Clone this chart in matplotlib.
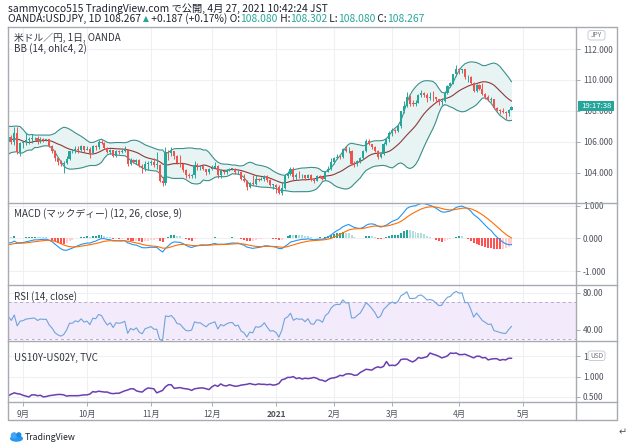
import numpy as np
import pandas as pd
import matplotlib
matplotlib.use('Agg')
import matplotlib.pyplot as plt
from matplotlib.patches import FancyBboxPatch, Rectangle, Ellipse, Circle

plt.rcParams['font.family'] = ['Noto Sans CJK JP', 'DejaVu Sans']

# ---------------- data ----------------
month_ticks = [5, 27, 49, 70, 92, 112, 132, 155, 177]
month_labels = ['9月', '10月', '11月', '12月', '2021', '2月', '3月', '4月', '5月']

# closes before the visible window (indicator warm-up, Jul-Aug 2020)
warmup_close = [107.53, 107.93, 107.47, 107.49, 107.49, 107.36, 107.59, 107.23, 107.22, 106.93,
                107.33, 107.24, 106.92, 107.28, 107.02, 107.26, 106.81, 107.17, 106.86, 106.13,
                105.39, 105.06, 104.95, 104.70, 105.83, 105.96, 105.71, 105.57, 105.55, 105.92,
                105.93, 106.49, 106.92, 106.92, 106.60, 105.99, 105.40, 106.11, 105.79, 105.80, 105.99]

closes = [106.33, 106.00, 106.58, 105.37, 105.91,
          105.97, 106.15, 106.19, 106.24, 106.26, 106.05, 106.18, 106.15, 106.16, 105.71, 105.43,
          104.95, 104.71, 104.56, 104.65, 104.93, 105.40, 105.40, 105.57, 105.50, 105.71, 105.48,
          105.55, 105.31, 105.74, 105.70, 106.01, 105.95, 105.62, 105.33, 105.47, 105.12, 105.43,
          105.38, 105.42, 105.50, 104.56, 104.86, 104.72, 104.85, 104.45, 104.30, 104.60, 104.66,
          104.73, 104.52, 104.52, 103.50, 103.37, 105.36, 105.28, 105.41, 105.12, 104.62, 104.57,
          104.20, 103.85, 103.80, 103.86, 104.52, 104.43, 104.43, 104.24, 104.08, 104.28,
          104.35, 104.43, 103.85, 104.15, 104.04, 104.17, 104.25, 104.26, 104.03, 104.07, 103.64,
          103.49, 103.10, 103.35, 103.28, 103.62, 103.57, 103.64, 103.82, 103.52, 103.23, 103.25,
          103.12, 102.71, 103.04, 103.81, 103.94, 104.25, 103.75, 103.89, 103.84, 103.86, 103.68,
          103.88, 103.53, 103.50, 103.78, 103.76, 103.63, 104.07, 104.24, 104.68,
          104.95, 105.04, 105.03, 105.54, 105.39, 105.44, 104.58, 104.57, 104.78, 104.96, 105.41,
          106.03, 105.88, 105.68, 105.44, 105.06, 105.22, 105.86, 106.18, 106.57,
          106.80, 106.71, 107.01, 107.97, 108.32, 108.91, 108.47, 108.46, 108.53, 109.04, 109.13,
          109.01, 108.84, 108.93, 108.88, 108.75, 108.61, 108.64, 109.17, 109.64, 109.78, 110.36, 110.72,
          110.63, 110.68, 110.18, 110.20, 109.82, 109.28, 109.67, 109.39, 109.08, 108.93, 108.74,
          108.78, 108.16, 108.09, 107.98, 107.91, 107.88, 108.08, 108.267]

opens = [106.00, 106.33, 106.00, 106.58, 105.37,
         105.91, 105.97, 106.15, 106.19, 106.24, 106.26, 106.05, 106.18, 106.15, 106.16, 105.71,
         105.43, 104.95, 104.71, 104.56, 104.65, 104.93, 105.40, 105.40, 105.57, 105.50, 105.71,
         105.48, 105.55, 105.31, 105.74, 105.70, 106.01, 105.95, 105.62, 105.33, 105.47, 105.12,
         105.43, 105.38, 105.42, 105.50, 104.56, 104.86, 104.72, 104.85, 104.45, 104.30, 104.60,
         104.66, 104.73, 104.52, 104.52, 103.50, 103.37, 105.36, 105.28, 105.41, 105.12, 104.62,
         104.57, 104.20, 103.85, 103.80, 103.86, 104.52, 104.43, 104.43, 104.24, 104.08,
         104.28, 104.35, 104.43, 103.85, 104.15, 104.04, 104.17, 104.25, 104.26, 104.03, 104.07,
         103.64, 103.49, 103.10, 103.35, 103.28, 103.62, 103.57, 103.64, 103.82, 103.52, 103.23,
         103.25, 103.12, 102.71, 103.04, 103.81, 103.94, 104.25, 103.75, 103.89, 103.84, 103.86,
         103.68, 103.88, 103.53, 103.50, 103.78, 103.76, 103.63, 104.07, 104.24,
         104.68, 104.95, 105.04, 105.03, 105.54, 105.39, 105.44, 104.58, 104.57, 104.78, 104.96,
         105.41, 106.03, 105.88, 105.68, 105.44, 105.06, 105.22, 105.86, 106.18,
         106.57, 106.80, 106.71, 107.01, 107.97, 108.32, 108.91, 108.47, 108.46, 108.53, 109.04,
         109.13, 109.01, 108.84, 108.93, 108.88, 108.75, 108.61, 108.64, 109.17, 109.64, 109.78, 110.36,
         110.72, 110.63, 110.68, 110.18, 110.20, 109.82, 109.28, 109.67, 109.39, 109.08, 108.93,
         108.74, 108.78, 108.16, 108.09, 107.98, 107.91, 107.88, 108.08]

highs = [106.48, 106.45, 106.95, 106.94, 106.00,
         106.00, 106.55, 106.35, 106.50, 106.35, 106.38, 106.30, 106.25, 106.20, 106.18, 105.80,
         105.50, 104.96, 104.84, 104.77, 105.10, 105.42, 105.54, 105.72, 105.73, 105.80, 105.75,
         105.71, 105.68, 105.78, 105.80, 106.11, 106.10, 106.01, 105.65, 105.55, 105.50, 105.50,
         105.48, 105.55, 105.75, 105.55, 104.96, 104.88, 104.92, 104.90, 104.55, 104.75, 104.80,
         104.83, 104.99, 105.34, 104.58, 103.76, 105.65, 105.48, 105.68, 105.43, 105.15, 105.13,
         104.64, 104.28, 103.98, 103.94, 104.75, 104.66, 104.53, 104.48, 104.26, 104.31,
         104.53, 104.70, 104.51, 104.26, 104.18, 104.26, 104.31, 104.35, 104.29, 104.18, 104.12,
         103.90, 103.56, 103.44, 103.88, 103.85, 103.68, 103.71, 103.85, 103.85, 103.60, 103.30,
         103.29, 103.20, 103.44, 103.95, 104.10, 104.40, 104.40, 103.97, 104.10, 103.92, 103.86,
         103.93, 103.94, 103.67, 103.85, 103.84, 103.78, 104.11, 104.44, 104.94,
         105.00, 105.20, 105.08, 105.60, 105.76, 105.65, 105.51, 104.78, 104.83, 105.02, 105.45,
         106.20, 106.22, 105.90, 105.75, 105.48, 105.30, 106.00, 106.22, 106.69,
         106.90, 106.85, 107.12, 108.00, 108.64, 109.23, 109.05, 108.70, 108.68, 109.12, 109.36,
         109.20, 109.17, 109.22, 109.30, 108.92, 108.79, 108.82, 109.22, 109.70, 109.85, 110.40, 110.97,
         110.77, 110.74, 110.70, 110.31, 110.25, 109.86, 109.73, 109.77, 109.78, 109.14, 109.05,
         108.91, 108.80, 108.23, 108.12, 108.16, 108.00, 108.14, 108.302]

lows = [105.95, 105.88, 105.78, 105.20, 105.11,
        105.59, 105.80, 105.90, 105.95, 106.12, 105.85, 105.95, 105.99, 106.03, 105.66, 105.29,
        104.78, 104.52, 104.44, 104.00, 104.60, 104.85, 105.27, 105.31, 105.28, 105.42, 105.38,
        105.48, 104.94, 105.28, 105.47, 105.53, 105.90, 105.55, 105.30, 105.20, 105.02, 105.00,
        105.25, 105.30, 105.38, 104.43, 104.50, 104.62, 104.55, 104.40, 104.02, 104.15, 104.18,
        104.50, 104.40, 104.26, 103.43, 103.18, 103.20, 104.83, 105.10, 104.88, 104.58, 104.39,
        104.08, 103.70, 103.65, 103.70, 103.70, 104.20, 104.20, 104.18, 103.88, 103.92,
        104.20, 104.30, 103.66, 103.70, 103.96, 103.93, 104.13, 104.20, 103.92, 103.90, 103.56,
        103.42, 102.88, 103.03, 103.20, 103.25, 103.45, 103.53, 103.50, 103.42, 103.15, 102.96,
        102.72, 102.62, 102.59, 102.98, 103.67, 103.84, 103.55, 103.52, 103.69, 103.68, 103.54,
        103.65, 103.46, 103.33, 103.49, 103.67, 103.52, 103.56, 104.03, 104.20,
        104.60, 104.90, 104.88, 104.95, 105.36, 105.29, 104.50, 104.40, 104.48, 104.62, 104.92,
        105.32, 105.80, 105.55, 105.33, 104.93, 104.97, 105.17, 105.80, 106.00,
        106.40, 106.58, 106.62, 106.91, 107.88, 108.23, 108.33, 108.30, 108.34, 108.50, 108.88,
        108.92, 108.61, 108.70, 108.62, 108.55, 108.40, 108.41, 108.60, 109.10, 109.56, 109.71, 110.25,
        110.38, 110.44, 110.08, 109.87, 109.77, 109.20, 109.21, 109.33, 109.06, 108.75, 108.62,
        108.61, 108.11, 107.97, 107.80, 107.85, 107.48, 107.70, 108.08]

# US10Y-US02Y spread (%)
spread = [0.53, 0.57, 0.60, 0.58, 0.57,
          0.54, 0.52, 0.50, 0.55, 0.55, 0.53, 0.54, 0.50, 0.51, 0.53, 0.54, 0.55, 0.56, 0.56, 0.55,
          0.52, 0.53, 0.53, 0.53, 0.53, 0.54, 0.55,
          0.55, 0.57, 0.63, 0.62, 0.64, 0.63, 0.62, 0.62, 0.59, 0.58, 0.59, 0.59, 0.62, 0.65, 0.67,
          0.70, 0.70, 0.65, 0.63, 0.62, 0.68, 0.72,
          0.71, 0.70, 0.60, 0.63, 0.66, 0.75, 0.80, 0.80, 0.71, 0.72, 0.73, 0.71, 0.70, 0.69, 0.66,
          0.70, 0.71, 0.72, 0.72, 0.70, 0.68,
          0.75, 0.79, 0.76, 0.82, 0.78, 0.77, 0.80, 0.78, 0.76, 0.77, 0.79, 0.80, 0.81, 0.83, 0.81,
          0.80, 0.82, 0.81, 0.81, 0.80, 0.81, 0.79,
          0.80, 0.83, 0.92, 0.94, 0.98, 0.98, 1.00, 0.95, 0.97, 0.94, 0.96, 0.95, 0.96, 0.98, 0.96,
          0.92, 0.91, 0.88, 0.93, 0.96,
          0.97, 0.99, 1.03, 1.02, 1.06, 1.07, 1.06, 1.03, 1.04, 1.10, 1.14, 1.18, 1.17, 1.16, 1.21,
          1.24, 1.22, 1.25, 1.37, 1.27,
          1.28, 1.27, 1.32, 1.42, 1.43, 1.43, 1.39, 1.36, 1.40, 1.47, 1.45, 1.47, 1.49, 1.58, 1.55,
          1.53, 1.50, 1.46, 1.48, 1.51, 1.58, 1.57, 1.58,
          1.54, 1.54, 1.55, 1.52, 1.49, 1.46, 1.50, 1.50, 1.46, 1.47, 1.41, 1.43, 1.44, 1.44, 1.40,
          1.42, 1.41, 1.45, 1.45]

# ---------------- indicators ----------------
o, h, l, c = (np.array(v, dtype=float) for v in (opens, highs, lows, closes))
n = len(c)
x = np.arange(n)
wu = np.array(warmup_close, dtype=float)

bb_src = pd.Series(np.concatenate([wu, (o + h + l + c) / 4]))
basis = bb_src.rolling(14).mean().values[-n:]
dev = 2 * bb_src.rolling(14).std(ddof=0).values[-n:]
upper, lower = basis + dev, basis - dev

fc = pd.Series(np.concatenate([wu, c]))
macd = fc.ewm(span=12, adjust=False).mean() - fc.ewm(span=26, adjust=False).mean()
sig = macd.ewm(span=9, adjust=False).mean()
hist_full = (macd - sig).values
macd, sig = macd.values[-n:], sig.values[-n:]
hist = hist_full[-n:]
hist_prev = hist_full[-n - 1:-1]

d = fc.diff()
gain = d.clip(lower=0).ewm(alpha=1 / 14, adjust=False).mean()
loss = (-d.clip(upper=0)).ewm(alpha=1 / 14, adjust=False).mean()
rsi = (100 - 100 / (1 + gain / loss)).values[-n:]

# ---------------- figure ----------------
W, H = 634, 448
fig = plt.figure(figsize=(W / 100, H / 100), dpi=100)
fig.patch.set_facecolor('white')

PX0, PX1, PXR = 8, 576, 617
XL, XR = -0.16, 195.2
UP, DN = '#26a69a', '#ef5350'
GRID = '#eef0f4'
FRAME = '#a7aab1'
LBL = '#50535e'


def mk(y0, y1):
    return fig.add_axes([PX0 / W, 1 - y1 / H, (PX1 - PX0) / W, (y1 - y0) / H])


def style(ax, yt, ylab, ylim):
    ax.set_xlim(XL, XR)
    ax.set_ylim(*ylim)
    ax.set_yticks(yt)
    ax.set_yticklabels(ylab)
    ax.yaxis.tick_right()
    ax.tick_params(axis='y', length=3, width=0.6, color='#9aa0a6', labelsize=6,
                   labelcolor=LBL, pad=2)
    ax.set_xticks(month_ticks)
    ax.tick_params(axis='x', length=0, labelbottom=False)
    ax.grid(True, color=GRID, lw=0.8)
    ax.set_axisbelow(True)
    for s in ax.spines.values():
        s.set_visible(False)


# main pane
ax1 = mk(27, 203)
style(ax1, [104, 106, 108, 110, 112], [f'{v:.3f}' for v in [104, 106, 108, 110, 112]],
      (102.06, 113.42))
ax1.fill_between(x, lower, upper, color='#e8f4f3', lw=0, zorder=1)
ax1.plot(x, upper, color='#3b8f8a', lw=0.8, zorder=2)
ax1.plot(x, lower, color='#3b8f8a', lw=0.8, zorder=2)
ax1.plot(x, basis, color='#8b3a3a', lw=0.8, zorder=2)
col = np.where(c >= o, UP, DN)
ax1.vlines(x, l, h, colors=col, lw=0.7, zorder=3)
ax1.bar(x, np.maximum(np.abs(c - o), 0.04), bottom=np.minimum(o, c), width=0.72,
        color=col, lw=0, zorder=4)

# MACD pane
ax2 = mk(203, 285)
style(ax2, [-1, 0, 1], ['-1.000', '0.000', '1.000'], (-1.43, 1.09))
hcol = np.where(hist >= 0,
                np.where(hist > hist_prev, '#26a69a', '#b2dfdb'),
                np.where(hist < hist_prev, '#ff5252', '#ffcdd2'))
ax2.bar(x, hist, width=0.68, color=hcol, lw=0, zorder=2)
ax2.plot(x, macd, color='#2196f3', lw=0.8, zorder=3)
ax2.plot(x, sig, color='#ff6d00', lw=0.8, zorder=3)

# RSI pane
ax3 = mk(285, 341)
style(ax3, [40, 80], ['40.00', '80.00'], (28.1, 88.6))
ax3.axhspan(30, 70, color='#f3eafb', lw=0, zorder=0.5)
ax3.axhline(70, color='#b9a7d1', lw=0.7, ls=(0, (3, 3)), zorder=1)
ax3.axhline(30, color='#b9a7d1', lw=0.7, ls=(0, (3, 3)), zorder=1)
ax3.plot(x, rsi, color='#6fa4dc', lw=0.8, zorder=3)

# spread pane
ax4 = mk(341, 402)
style(ax4, [0.5, 1.0, 1.5], ['0.500', '1.000', '1.500'], (0.375, 1.875))
ax4.plot(x, spread, color='#6a3fb0', lw=1.1, zorder=3)
ax4.set_xticklabels(month_labels)
ax4.tick_params(axis='x', length=3, width=0.6, color='#9aa0a6', labelbottom=True,
                labelsize=6, labelcolor=LBL, pad=3)
ax4.get_xticklabels()[4].set_fontweight('bold')

# ---------------- overlay: frame, labels ----------------
ov = fig.add_axes([0, 0, 1, 1], zorder=10)
ov.set_xlim(0, W)
ov.set_ylim(H, 0)
ov.axis('off')
ov.plot([PX0, PXR, PXR, PX0, PX0], [27, 27, 420, 420, 27], color=FRAME, lw=1)
ov.plot([PX1, PX1], [27, 420], color=FRAME, lw=1)
for yy in (203, 285, 341, 402):
    ov.plot([PX0, PXR], [yy, yy], color=FRAME, lw=1)

FS = 7.4
ov.text(8, 9, 'sammycoco515 TradingView.com で公開, 4月 27, 2021 10:42:24 JST',
        fontsize=FS, color='#1e222d', va='center', ha='left')
segs = [('OANDA:USDJPY, 1D 108.267 ', '#1e222d'), ('▲', UP), (' +0.187 (+0.17%) O:', '#1e222d'),
        ('108.080', UP), (' H:', '#1e222d'), ('108.302', UP), (' L:', '#1e222d'),
        ('108.080', UP), (' C:', '#1e222d'), ('108.267', UP)]
fig.canvas.draw()
rend = fig.canvas.get_renderer()
xp = 8
for txt, cc in segs:
    fs = 5.5 if txt == '▲' else FS
    t = ov.text(xp, 19, txt.replace(' ', '\u00a0'), fontsize=fs, color=cc, va='center', ha='left',
                family=['DejaVu Sans'] if txt == '▲' else None)
    xp += t.get_window_extent(rend).width

PFS = 7
ov.text(14, 38, '米ドル／円, 1日, OANDA', fontsize=PFS, color='#333640', va='center')
ov.text(14, 49, 'BB (14, ohlc4, 2)', fontsize=PFS, color='#333640', va='center')
ov.text(14, 214, 'MACD (マックディー) (12, 26, close, 9)', fontsize=PFS, color='#333640', va='center')
ov.text(14, 297, 'RSI (14, close)', fontsize=PFS, color='#333640', va='center')
ov.text(14, 358, 'US10Y-US02Y, TVC', fontsize=PFS, color='#333640', va='center')

# badges on price scale
for (bx, by, txt) in [(588, 30.5, 'JPY'), (588, 351, 'USD')]:
    ov.add_patch(FancyBboxPatch((bx, by), 17, 9.5, boxstyle='round,pad=0,rounding_size=2.5',
                                fc='white', ec='#c9ccd2', lw=0.7))
    ov.text(bx + 8.5, by + 4.9, txt, fontsize=4.8, color='#70737c', ha='center', va='center')
ov.add_patch(Rectangle((578, 101.5), 36, 9.5, fc='#26a69a', ec='none'))
ov.text(596, 106.3, '19:17:38', fontsize=5.6, color='white', ha='center', va='center')

# TradingView logo
ov.add_patch(Ellipse((16.5, 438.5), 13, 6.5, fc='#2196f3', ec='none'))
ov.add_patch(Circle((14, 435.5), 3.3, fc='#42a5f5', ec='none'))
ov.add_patch(Circle((18.8, 434.8), 2.6, fc='#1e88e5', ec='none'))
ov.text(25, 437, 'TradingView', fontsize=6.3, color='#1e222d', va='center', ha='left')
ov.text(623, 432, '↵', fontsize=7, color='#555555', va='center', ha='center',
        family=['DejaVu Sans'])

fig.savefig('out.png', dpi=100, facecolor='white')
